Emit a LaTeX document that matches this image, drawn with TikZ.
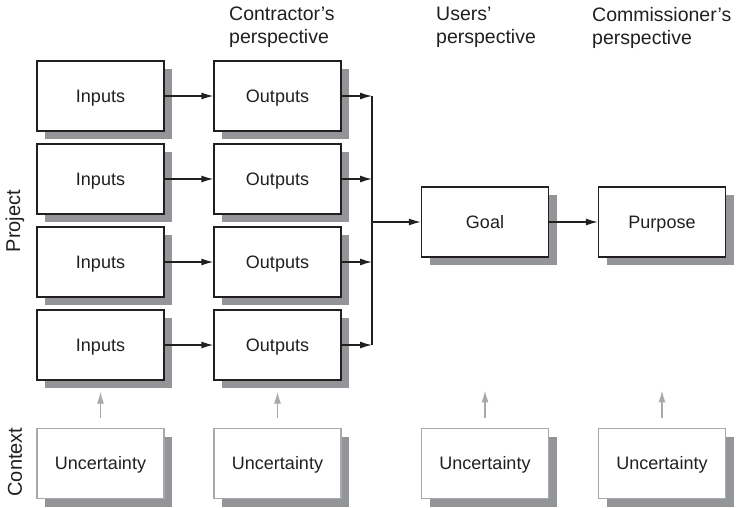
\documentclass[tikz,border=0pt]{standalone}
\usepackage{fontspec}
\setmainfont{Liberation Sans}
\usetikzlibrary{arrows.meta,shadows}

\definecolor{ink}{HTML}{231F20}
\definecolor{shade}{HTML}{939598}
\definecolor{soft}{HTML}{A7A9AC}

\begin{document}
\begin{tikzpicture}[x=1pt,y=-1pt,
  card/.style={draw=ink, line width=1.3pt, fill=white,
    minimum width=127pt, minimum height=70pt, inner sep=0pt,
    text height=12.9pt, text depth=0pt,
    text=ink, font=\fontsize{18}{21}\selectfont,
    general shadow={fill=shade, shadow xshift=8pt, shadow yshift=-8pt}},
  faint/.style={card, draw=soft, line width=1.1pt},
  flow/.style={draw=ink, line width=1.3pt, -{Latex[length=12pt,width=7pt]}},
  cue/.style={draw=soft, line width=1.3pt, -{Latex[length=12pt,width=7pt]}},
  heading/.style={anchor=north west, align=left, inner sep=0pt, text=ink,
    font=\fontsize{19.5}{23}\selectfont},
  side/.style={rotate=90, inner sep=0pt, text=ink,
    font=\fontsize{20}{24}\selectfont}]

% canvas
\fill[white] (0,0) rectangle (737,507);
\useasboundingbox (0,0) rectangle (737,507);

% perspective headings
\node[heading] (hcon) at (229,7) {Contractor’s\\perspective};
\node[heading] (huse) at (436,7) {Users’\\perspective};
\node[heading] (hcom) at (592,7) {Commissioner’s\\perspective};

% row labels
\node[side] (lproj) at (15,221) {Project};
\node[side] (lctx) at (15,462) {Context};

% project chain: inputs -> outputs -> bus
\foreach \i/\y in {1/96,2/179,3/262,4/345} {
  \node[card] (in\i) at (100.5,\y) {Inputs};
  \node[card] (out\i) at (277.5,\y) {Outputs};
  \coordinate (bus\i) at (372,\y);
  \draw[flow] (in\i) -- (out\i);
  \draw[flow] (out\i.east) -- (bus\i);
}
\draw[ink, line width=1.3pt] (bus1) -- (bus4);

% goal and purpose
\node[card] (goal) at (485,222) {Goal};
\node[card] (purpose) at (662,222) {Purpose};
\coordinate (busg) at (372,222);
\draw[flow] (busg) -- (goal);
\draw[flow] (goal) -- (purpose);

% context uncertainties
\node[faint] (u1) at (100.5,463.5) {Uncertainty};
\node[faint] (u2) at (277.5,463.5) {Uncertainty};
\node[faint] (u3) at (485,463.5) {Uncertainty};
\node[faint] (u4) at (662,463.5) {Uncertainty};

\draw[cue] ([yshift=9.5pt]u1.north) -- ([yshift=-11pt]in4.south);
\draw[cue] ([yshift=9.5pt]u2.north) -- ([yshift=-11pt]out4.south);
\draw[cue] ([yshift=9.5pt]u3.north) -- ([yshift=37.5pt]u3.north);
\draw[cue] ([yshift=9.5pt]u4.north) -- ([yshift=37.5pt]u4.north);
\end{tikzpicture}
\end{document}
